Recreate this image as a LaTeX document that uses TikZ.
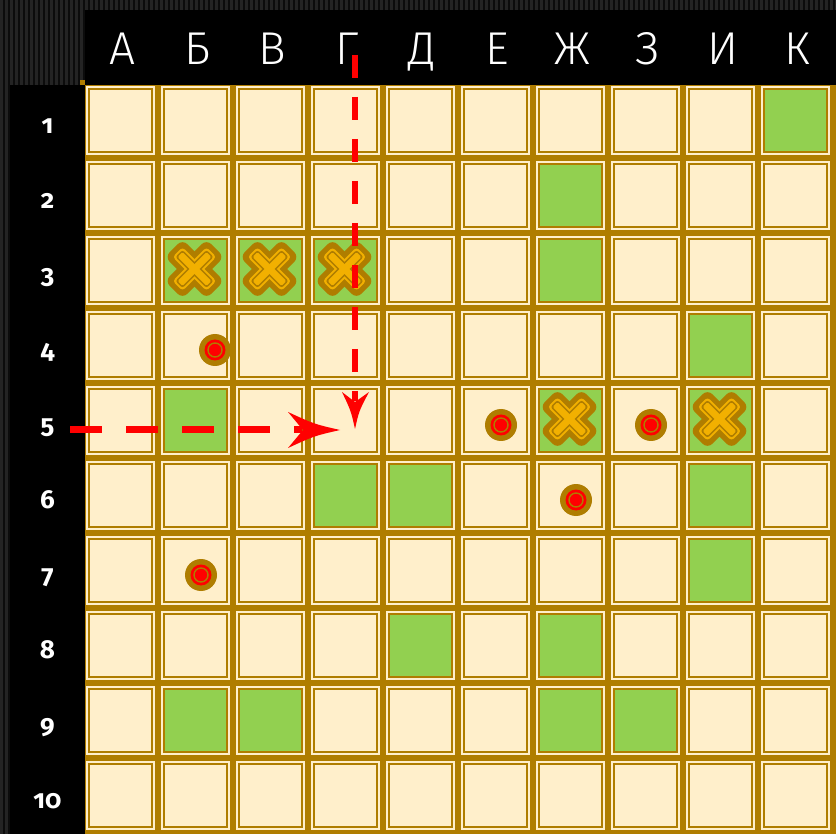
\documentclass[tikz,border=0pt]{standalone}
\usepackage{fontspec}
\setmainfont{Fira Sans}
\newfontfamily\hdrfont{Fira Sans Light}
\newfontfamily\numfont[Numbers=OldStyle]{Fira Sans}
\usetikzlibrary{calc}
\definecolor{gold}{HTML}{AF7D00}
\definecolor{cream}{HTML}{FFEFCB}
\definecolor{grass}{HTML}{92D050}
\definecolor{amber}{HTML}{F2B000}
\definecolor{texlite}{HTML}{242424}
\definecolor{texdark}{HTML}{0C0C0C}
\tikzset{
  cellin/.style={draw=gold, line width=1.6, fill=cream},
  greencell/.style={draw=gold, line width=1.6, fill=grass},
  collabel/.style={text=white, font=\hdrfont\fontsize{46}{46}\selectfont, anchor=base, inner sep=0pt},
  rowlabel/.style={text=white, font=\numfont\bfseries\fontsize{26}{26}\selectfont, anchor=base, inner sep=0pt},
  dashh/.style={draw=red, line width=7, dash pattern=on 32pt off 24pt},
  dashv/.style={draw=red, line width=6.5, dash pattern=on 23pt off 19pt},
  xmark/.pic={
    \foreach \ins/\rr/\cc in {0/7/gold,5.5/3.5/amber,7.5/2.5/gold,9/1.5/amber}{
      \foreach \ang in {45,-45}{
        \fill[color=\cc, rotate=\ang, rounded corners=\rr pt]
          ({-29.5+\ins},{-12.5+\ins}) rectangle ({29.5-\ins},{12.5-\ins});
      }
    }
  },
  target/.pic={
    \fill[gold] (0,0) circle (16);
    \fill[red] (0,0) circle (10.5);
    \draw[gold, line width=1.4] (0,0) circle (7);
  }
}
\begin{document}
\begin{tikzpicture}[x=1pt,y=-1pt]
\useasboundingbox (0,0) rectangle (836,834);
% textured background
\fill[texdark] (0,0) rectangle (836,834);
\foreach \i in {0,...,167} \fill[texlite] ({5*\i},0) rectangle ({5*\i+2.5},834);
% grid base
\fill[gold] (80,80) rectangle (836,834);
% black panels
\fill[black] (85,10) rectangle (836,85);
\fill[black] (10,85) rectangle (85,834);
% cells
\foreach \c in {0,...,9}{
  \foreach \r in {0,...,9}{
    \fill[cream] ({86+75*\c},{86+75*\r}) rectangle ({155+75*\c},{155+75*\r});
    \draw[cellin] ({89+75*\c},{89+75*\r}) rectangle ({152+75*\c},{152+75*\r});
  }
}
% green cells
\foreach \c/\r in {9/0, 6/1, 1/2,2/2,3/2,6/2, 8/3, 1/4,6/4,8/4, 3/5,4/5,8/5, 8/6, 4/7,6/7, 1/8,2/8,6/8,7/8}
  \draw[greencell] ({89+75*\c},{89+75*\r}) rectangle ({152+75*\c},{152+75*\r});
% column labels
\foreach \t [count=\i from 0] in {А,Б,В,Г,Д,Е,Ж,З,И,К}
  \node[collabel] (col\i) at ({122.5+75*\i},65) {\t};
% row labels
\foreach \r in {1,...,10}
  \node[rowlabel] (row\r) at (47.5,{133.5+75*(\r-1)}) {\r};
% crosses
\foreach \c/\r [count=\k] in {1/2,2/2,3/2,6/4,8/4}
  \pic (cross\k) at ({119.5+75*\c},{119+75*\r}) {xmark};
% targets
\foreach \x/\y [count=\k] in {215/350, 501/425, 651/425, 576/500, 201/575}
  \pic (tgt\k) at (\x,\y) {target};
% arrows
\coordinate (hs) at (70,430);
\coordinate (ht) at (340,430);
\coordinate (vs) at (355,55);
\coordinate (vt) at (355,429);
\draw[dashh] (hs) -- ($(ht)+(-38,0)$);
\fill[red] (ht) .. controls ($(ht)+(-26,-6)$) .. ($(ht)+(-52,-18)$)
  -- ($(ht)+(-37,0)$) -- ($(ht)+(-52,18)$) .. controls ($(ht)+(-26,6)$) .. cycle;
\draw[dashv] (vs) -- ($(vt)+(0,-28)$);
\fill[red] (vt) .. controls ($(vt)+(-4,-18)$) .. ($(vt)+(-13,-37)$)
  -- ($(vt)+(0,-27)$) -- ($(vt)+(14,-37)$) .. controls ($(vt)+(4,-18)$) .. cycle;
\end{tikzpicture}
\end{document}
